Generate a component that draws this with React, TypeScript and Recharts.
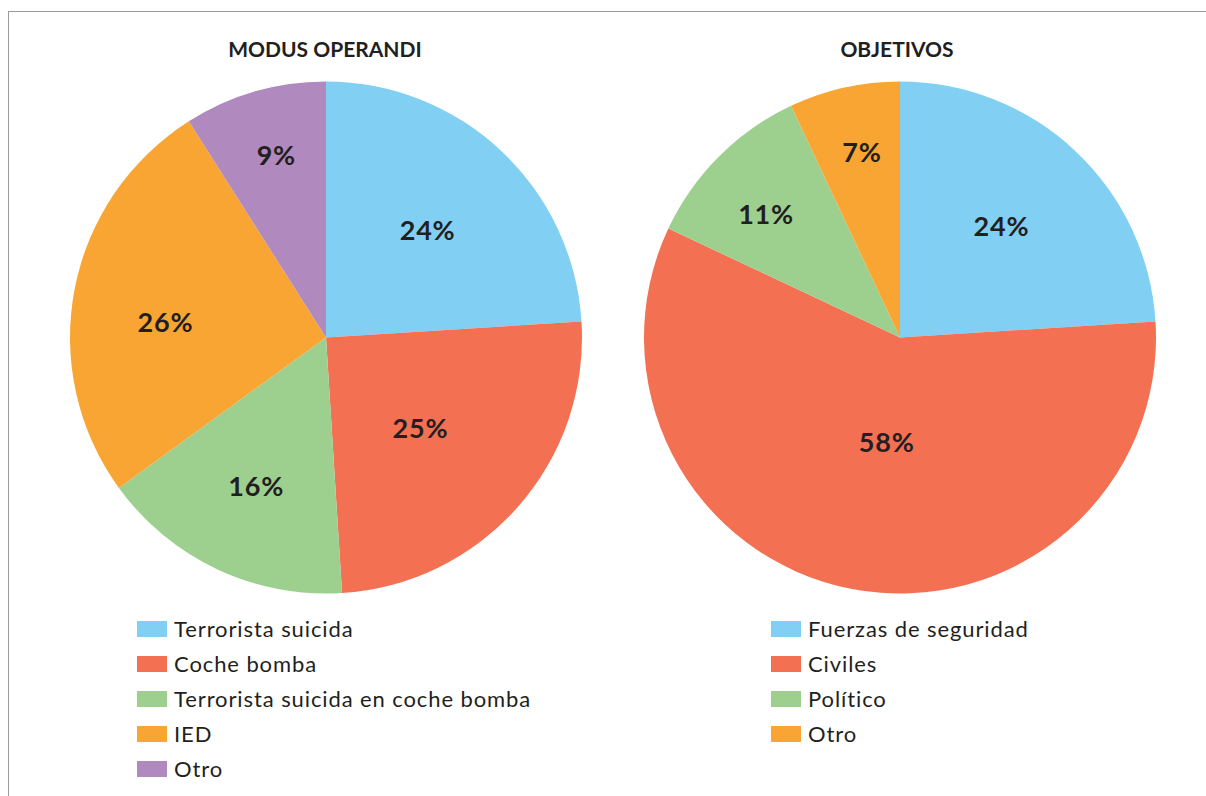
import React from "react";
import { PieChart, Pie, Cell } from "recharts";

const modusLabels = [
  "Terrorista suicida",
  "Coche bomba",
  "Terrorista suicida en coche bomba",
  "IED",
  "Otro",
];
const modusValues = [24, 25, 16, 26, 9];
const modusColors = ["#81d0f4", "#f37053", "#9dd08f", "#f9a533", "#b089bf"];

const objetivosLabels = ["Fuerzas de seguridad", "Civiles", "Político", "Otro"];
const objetivosValues = [24, 58, 11, 7];
const objetivosColors = ["#81d0f4", "#f37053", "#9dd08f", "#f9a533"];

const titles = ["MODUS OPERANDI", "OBJETIVOS"];

// label distance from the centre as a fraction of the radius, and angle nudge (deg)
const modusLabelRadius = [0.58, 0.51, 0.64, 0.63, 0.74];
const modusLabelAngle = [0, -2.2, 0, 5, -1];
const objetivosLabelRadius = [0.59, 0.41, 0.713, 0.74];
const objetivosLabelAngle = [1, 3.5, 2.2, -1];

const modusData = modusLabels.map((name, i) => ({ name, value: modusValues[i] }));
const objetivosData = objetivosLabels.map((name, i) => ({ name, value: objetivosValues[i] }));

const RAD = Math.PI / 180;
const FONT = "Lato, 'Open Sans', sans-serif";
const TEXT = "#231f20";

const makeLabel = (ratios: number[], nudges: number[]) => (props: any) => {
  const { cx, cy, midAngle, outerRadius, index, value } = props;
  const r = outerRadius * ratios[index];
  const a = midAngle + nudges[index];
  const x = cx + r * Math.cos(-a * RAD);
  const y = cy + r * Math.sin(-a * RAD);
  return (
    <text
      x={x}
      y={y}
      textAnchor="middle"
      dominantBaseline="central"
      fill={TEXT}
      style={{ fontFamily: FONT, fontWeight: 700, fontSize: 27, letterSpacing: 0.8 }}
    >
      {`${value}%`}
    </text>
  );
};

const Legend = ({ labels, colors, left, top }: { labels: string[]; colors: string[]; left: number; top: number }) => (
  <div style={{ position: "absolute", left, top }}>
    {labels.map((l, i) => (
      <div key={l} style={{ display: "flex", alignItems: "center", height: 35 }}>
        <div style={{ width: 30, height: 16, background: colors[i], marginRight: 7 }} />
        <span style={{ fontFamily: FONT, fontSize: 22, letterSpacing: 0.9, color: TEXT, lineHeight: "35px", whiteSpace: "nowrap" }}>{l}</span>
      </div>
    ))}
  </div>
);

export default function App() {
  return (
    <div style={{ position: "absolute", left: 0, top: 0, width: 1206, height: 796, background: "#fff", overflow: "hidden" }}>
      <div
        style={{
          position: "absolute",
          left: 8,
          top: 11,
          width: 1206,
          height: 800,
          borderTop: "1.5px solid #9b9b9b",
          borderLeft: "1.5px solid #9b9b9b",
        }}
      />
      <PieChart
        width={1206}
        height={796}
        margin={{ top: 0, right: 0, bottom: 0, left: 0 }}
        style={{ position: "absolute", left: 0, top: 0 }}
      >
        <Pie
          data={modusData}
          dataKey="value"
          cx={326}
          cy={337.5}
          outerRadius={256}
          startAngle={90}
          endAngle={-270}
          stroke="none"
          label={makeLabel(modusLabelRadius, modusLabelAngle)}
          labelLine={false}
          isAnimationActive={false}
        >
          {modusData.map((d, i) => (
            <Cell key={d.name} fill={modusColors[i]} />
          ))}
        </Pie>
        <Pie
          data={objetivosData}
          dataKey="value"
          cx={900}
          cy={337.5}
          outerRadius={256}
          startAngle={90}
          endAngle={-270}
          stroke="none"
          label={makeLabel(objetivosLabelRadius, objetivosLabelAngle)}
          labelLine={false}
          isAnimationActive={false}
        >
          {objetivosData.map((d, i) => (
            <Cell key={d.name} fill={objetivosColors[i]} />
          ))}
        </Pie>
      </PieChart>
      <div style={{ position: "absolute", left: 125, width: 400, top: 36, textAlign: "center", fontFamily: FONT, fontWeight: 700, fontSize: 21, color: TEXT }}>
        {titles[0]}
      </div>
      <div style={{ position: "absolute", left: 697, width: 400, top: 36, textAlign: "center", fontFamily: FONT, fontWeight: 700, fontSize: 21, color: TEXT }}>
        {titles[1]}
      </div>
      <Legend labels={modusLabels} colors={modusColors} left={137} top={611} />
      <Legend labels={objetivosLabels} colors={objetivosColors} left={771} top={611} />
    </div>
  );
}
